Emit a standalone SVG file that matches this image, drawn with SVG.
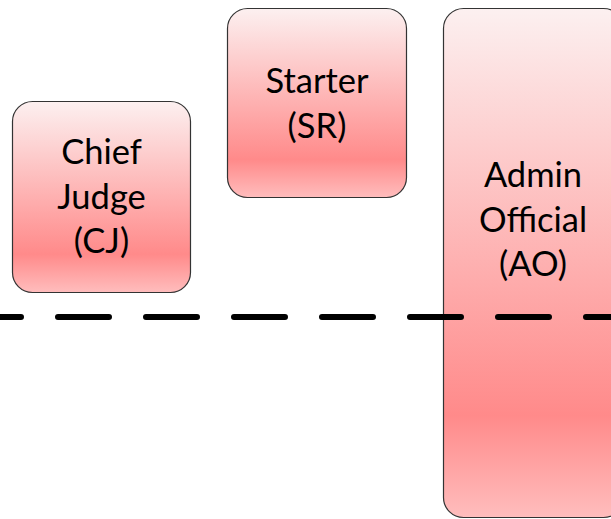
<svg xmlns="http://www.w3.org/2000/svg" width="611" height="519" viewBox="0 0 611 519">
  <defs>
    <linearGradient id="pinkGrad" x1="0" y1="0" x2="0" y2="1">
      <stop offset="0" stop-color="#fcf0f0"/>
      <stop offset="0.8" stop-color="#ff8a8a"/>
      <stop offset="1" stop-color="#ffbdbd"/>
    </linearGradient>
  </defs>
  <style>
    .box { fill: url(#pinkGrad); stroke: #333333; stroke-width: 1.2; }
    .lbl { font-family: Lato, "Liberation Sans", sans-serif; font-size: 34.5px; fill: #000000; text-anchor: middle; }
    .divider { stroke: #000000; stroke-width: 6; stroke-linecap: round; stroke-dasharray: 51 37; fill: none; }
  </style>
  <rect width="611" height="519" fill="#ffffff"/>
  <g id="node-ao">
    <rect class="box" x="443.5" y="8.5" width="180" height="509" rx="20" ry="20"/>
    <text class="lbl" x="533" y="187">Admin</text>
    <text class="lbl" x="533" y="232">Official</text>
    <text class="lbl" x="533" y="276">(AO)</text>
  </g>
  <g id="connectors">
    <line class="divider" x1="-30" y1="317" x2="640" y2="317"/>
  </g>
  <g id="node-cj">
    <rect class="box" x="12.5" y="101.5" width="178" height="191" rx="20" ry="20"/>
    <text class="lbl" x="101.5" y="164">Chief</text>
    <text class="lbl" x="101.5" y="209">Judge</text>
    <text class="lbl" x="101.5" y="253">(CJ)</text>
  </g>
  <g id="node-sr">
    <rect class="box" x="227.5" y="8.5" width="179" height="189" rx="20" ry="20"/>
    <text class="lbl" x="317" y="93">Starter</text>
    <text class="lbl" x="317" y="138">(SR)</text>
  </g>
</svg>
